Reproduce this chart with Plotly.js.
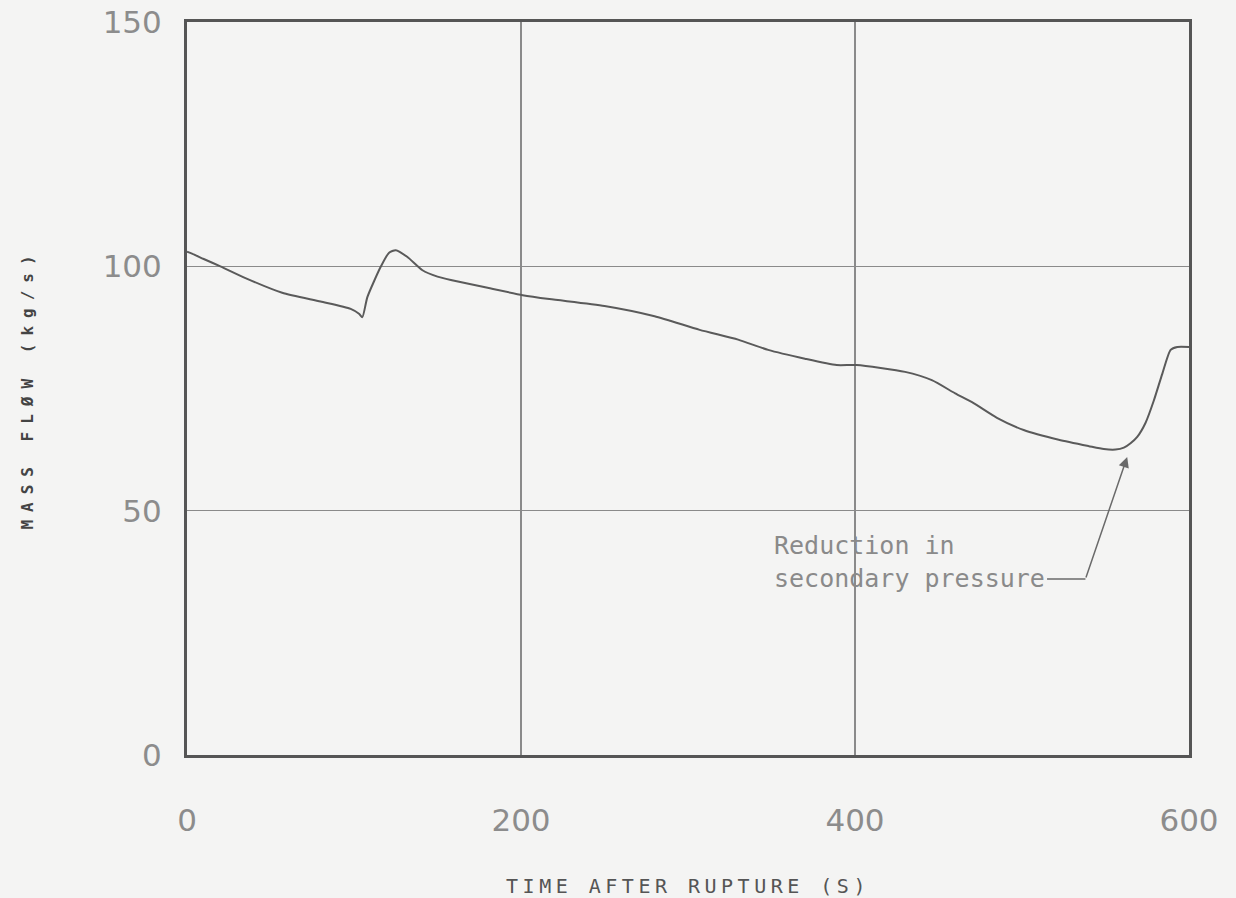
<!DOCTYPE html>
<html>
<head>
<meta charset="utf-8">
<script src="https://cdn.plot.ly/plotly-3.0.1.min.js"></script>
<style>
  html, body { margin: 0; padding: 0; background: #f4f4f3; }
  #chart { width: 1236px; height: 898px; }
  .g-ytitle text { letter-spacing: 8px; }
  .g-xtitle text { letter-spacing: 4.5px; }
</style>
</head>
<body>
<div id="chart"></div>
<script>
// Break mass flow after tube rupture, seconds vs kg/s
const timeS = [0, 3, 10, 20, 35, 57, 80, 98, 103, 105, 108, 116, 121, 125, 132, 141, 150, 158, 180, 201, 217,
               250, 280, 307, 330, 348, 370, 389, 401, 430, 446, 460, 471, 485, 501, 522, 540, 549, 556,
               561, 565, 569, 574, 579, 584, 589, 593, 600];
const massFlow = [103.0, 102.6, 101.5, 100.0, 97.6, 94.6, 92.8, 91.3, 90.3, 89.6, 93.7, 99.9, 102.8, 103.3, 101.9, 99.2, 97.9, 97.2, 95.6, 94.1, 93.3,
                  91.9, 89.8, 87.0, 85.0, 82.9, 81.1, 79.8, 79.8, 78.4, 76.7, 74.0, 72.0, 69.0, 66.5, 64.5, 63.2, 62.6, 62.5,
                  62.9, 63.8, 65.1, 68.0, 72.6, 78.0, 82.9, 83.5, 83.5];

const xTicks = [0, 200, 400, 600];
const yTicks = [0, 50, 100, 150];

// Callout pointing at the dip before the secondary pressure drop
const noteText = ['Reduction in', 'secondary pressure'];
const noteAt = {x: 350, y: 39.5};
const hookFrom = {x: 515, y: 36};
const hookTo = {x: 538, y: 36};
const arrowTip = {x: 563, y: 61};

const ink = '#555555';
const tickFont = {family: 'DejaVu Sans, sans-serif', size: 31, color: '#8c8c8c'};

const trace = {
  x: timeS,
  y: massFlow,
  type: 'scatter',
  mode: 'lines',
  line: {color: '#5a5a5a', width: 2, shape: 'spline', smoothing: 0.6},
  hoverinfo: 'skip',
  showlegend: false
};

const layout = {
  width: 1236,
  height: 898,
  margin: {l: 187, r: 47, t: 22, b: 143},
  paper_bgcolor: '#f4f4f3',
  plot_bgcolor: '#f4f4f3',
  showlegend: false,
  xaxis: {
    range: [0, 600],
    tickvals: xTicks,
    ticktext: xTicks.map(String),
    ticks: '',
    ticklabelstandoff: 36,
    tickfont: tickFont,
    showgrid: true,
    gridcolor: '#8a8a8a',
    gridwidth: 1.5,
    zeroline: false,
    showline: true,
    linecolor: ink,
    linewidth: 3,
    mirror: true,
    title: {
      text: 'TIME AFTER RUPTURE (S)',
      font: {family: 'DejaVu Sans Mono, monospace', size: 20, color: '#555555'},
      standoff: 46
    }
  },
  yaxis: {
    range: [0, 150],
    tickvals: yTicks,
    ticktext: yTicks.map(String),
    ticks: '',
    ticklabelstandoff: 16,
    tickfont: tickFont,
    showgrid: true,
    gridcolor: '#8a8a8a',
    gridwidth: 1.5,
    zeroline: false,
    showline: true,
    linecolor: ink,
    linewidth: 3,
    mirror: true,
    title: {
      text: 'MASS FLØW (kg/s)',
      font: {family: 'DejaVu Sans Mono, monospace', size: 16, color: '#444444', weight: 'bold'},
      standoff: 66
    }
  },
  shapes: [
    {
      type: 'line', xref: 'x', yref: 'y',
      x0: hookFrom.x, y0: hookFrom.y, x1: hookTo.x, y1: hookTo.y,
      line: {color: '#6a6a6a', width: 1.5}
    }
  ],
  annotations: [
    {
      xref: 'x', yref: 'y',
      x: noteAt.x, y: noteAt.y,
      xanchor: 'left', yanchor: 'middle', align: 'left',
      text: noteText.join('<br>'),
      showarrow: false,
      font: {family: 'DejaVu Sans Mono, monospace', size: 25, color: '#8a8a8a'}
    },
    {
      xref: 'x', yref: 'y', axref: 'x', ayref: 'y',
      x: arrowTip.x, y: arrowTip.y,
      ax: hookTo.x, ay: hookTo.y,
      text: '',
      showarrow: true,
      arrowhead: 2,
      arrowsize: 1.4,
      arrowwidth: 1.5,
      arrowcolor: '#6a6a6a'
    }
  ]
};

Plotly.newPlot('chart', [trace], layout, {staticPlot: true, displayModeBar: false});
</script>
</body>
</html>
